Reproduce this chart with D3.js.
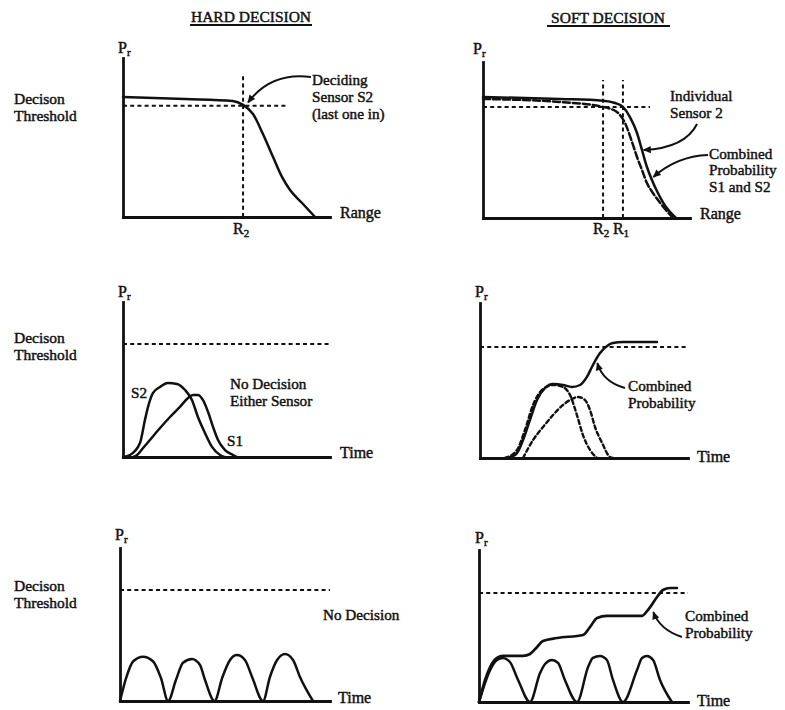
<!DOCTYPE html>
<html><head><meta charset="utf-8">
<script src="https://cdn.jsdelivr.net/npm/d3@7"></script>
<style>
body{margin:0;background:#fff}
svg text{font-family:"Liberation Serif","Times New Roman",serif;fill:#111;stroke:#111;stroke-width:0.45px}
</style></head><body><svg id="c" width="785" height="710"></svg>
<script>
// ---------------- DATA (x: 0–100 along axis, y: probability 0–1) ----------------
const titles = ["HARD DECISION", "SOFT DECISION"];
const thresholds = [0.70, 0.712, 0.729, 0.716, 0.725, 0.717];
const thresholdEnds = [79, 80.7, 100, 100, 100, 100];
const xAxisNames = ["Range", "Range", "Time", "Time", "Time", "Time"];

// Row 1 — probability vs range
const hardRangeS2 = [[0,0.755],[30,0.742],[53,0.730],[58,0.705],[62.8,0.648],[67.6,0.522],[72.5,0.377],[76.8,0.252],[80.7,0.170],[86.5,0.088],[92.8,0]];
const hardRangeMarkers = [{name:"R", sub:"2", x:58}];
const softRangeCombined = [[0,0.776],[37.2,0.763],[58,0.752],[63.8,0.737],[67.6,0.712],[71,0.647],[74.4,0.545],[76.8,0.436],[79.2,0.327],[81.6,0.244],[84.5,0.160],[87.4,0.090],[93.2,0]];
const softRangeSensor2 = [[0,0.763],[37,0.744],[58,0.712],[64.7,0.679],[68.6,0.609],[72,0.487],[74.4,0.391],[76.8,0.308],[79.2,0.224],[82.1,0.160],[86,0.090],[91.8,0]];
const softRangeMarkers = [{name:"R", sub:"2", x:58},{name:"R", sub:"1", x:67.6}];
const markerTop = 0.885;

// Row 2 — two sensors vs time
const hardTimeS2 = [[0,0],[3.4,0.013],[8.2,0.090],[10.6,0.239],[12.1,0.323],[14.5,0.413],[17.9,0.452],[21.7,0.477],[26.1,0.471],[30,0.432],[33.3,0.368],[36.2,0.258],[39.6,0.155],[43,0.065],[46.9,0.013],[49,0]];
const hardTimeS1 = [[5,0],[6.8,0.013],[9.7,0.058],[13,0.110],[17.9,0.187],[22.7,0.258],[27.5,0.323],[31.4,0.381],[33.8,0.400],[36.2,0.400],[38.6,0.368],[41.1,0.290],[43.5,0.194],[45.9,0.110],[49.3,0.045],[53.1,0.013],[55,0]];
const softTimeCombined = [[13.5,0],[17.8,0.032],[20.7,0.116],[24,0.245],[27.4,0.374],[31.3,0.452],[35.1,0.477],[39.9,0.471],[44.2,0.458],[48.1,0.471],[51.4,0.523],[54.3,0.600],[57.7,0.677],[61.1,0.723],[63.9,0.742],[68.8,0.748],[85.1,0.748]];
const softTimeSensorA = [[12,0],[17.8,0.052],[21.6,0.181],[25.5,0.342],[29.8,0.439],[35.1,0.471],[39.9,0.458],[43.3,0.406],[46.6,0.277],[49.5,0.148],[52.9,0.052],[56.3,0]];
const softTimeSensorB = [[20.7,0],[25.5,0.116],[30.3,0.200],[35.1,0.277],[39.9,0.342],[44.2,0.381],[47.1,0.394],[50.5,0.374],[52.9,0.310],[55.3,0.200],[58.7,0.097],[62.5,0.006],[63.9,0]];

// Row 3 — intermittent detections
const hardPulses = [[0,0],[2.9,0.15],[6.3,0.26],[11,0.29],[15.7,0.26],[19.5,0.15],[22.9,0],[26.7,0.14],[30,0.25],[34.3,0.275],[38.1,0.235],[40.5,0.137],[45,0],[48.8,0.157],[52.4,0.268],[55.7,0.30],[59.5,0.268],[62.9,0.157],[68.1,0],[71.4,0.157],[74.8,0.268],[78.6,0.307],[82.4,0.268],[85.7,0.157],[91.9,0]];
const softPulses = [[0,0],[5.3,0.21],[8.6,0.276],[11.5,0.29],[14.8,0.263],[18.7,0.145],[24.4,0],[29.2,0.19],[31.6,0.25],[34.9,0.276],[37.8,0.257],[41.1,0.145],[46.9,0],[52.2,0.23],[54.5,0.29],[57.9,0.303],[61.2,0.276],[64.1,0.145],[68.9,0],[75.6,0.21],[78,0.29],[80.4,0.303],[83.3,0.276],[86.6,0.145],[92.3,0]];
const softPulseCombined = [[0,0],[2.9,0.145],[5.3,0.23],[8.6,0.29],[11.5,0.303],[21.1,0.303],[24.4,0.316],[27.8,0.362],[30.6,0.401],[37.3,0.421],[49.8,0.441],[53.1,0.493],[56.5,0.553],[61.2,0.566],[77.9,0.566],[80.8,0.605],[85.2,0.691],[88,0.737],[91.4,0.75],[94.7,0.75]];

// Annotation arrows: [start, control, end] in panel units
const arrows = [
  {panel:0, pts:[[90.8,0.88],[71.5,0.913],[60.4,0.72]]},
  {panel:1, pts:[[103.4,0.603],[97.6,0.449],[77.6,0.436]]},
  {panel:1, pts:[[108.7,0.404],[93.7,0.397],[82.3,0.263]]},
  {panel:3, pts:[[69.7,0.452],[59.1,0.49],[56.4,0.613]]},
  {panel:5, pts:[[97.1,0.428],[86.6,0.474],[83.4,0.592]]}
];
const notes = [
  {panel:0, lines:["Deciding","Sensor S2","(last one in)"]},
  {panel:1, lines:["Individual","Sensor 2"]},
  {panel:1, lines:["Combined","Probability","S1 and S2"]},
  {panel:2, lines:["No Decision","Either Sensor"]},
  {panel:2, lines:["S2"]},
  {panel:2, lines:["S1"]},
  {panel:3, lines:["Combined","Probability"]},
  {panel:4, lines:["No Decision"]},
  {panel:5, lines:["Combined","Probability"]}
];
const sideLabel = ["Decison","Threshold"];

// ---------------- LAYOUT ----------------
const panelBox = [
  {x0:123,x1:330,yb:217,yt:58},
  {x0:483,x1:690,yb:218,yt:62},
  {x0:123,x1:330,yb:457,yt:302},
  {x0:480,x1:688,yb:458,yt:303},
  {x0:120,x1:330,yb:701,yt:548},
  {x0:479,x1:688,yb:702,yt:550}
];
const titlePos = [{cx:251,y:22,u0:190,u1:312,uy:25},{cx:608,y:23,u0:547,u1:670,uy:26}];
const prPos = [[118,53],[473,54],[118,297],[475,297],[115,540],[475,543]];
const xNamePos = [[340,218],[700,219],[340,458],[697,462],[338,703],[697,706]];
const notePos = [[312,85],[670,101],[709,158.5],[230,389],[131,398],[227,446],[628,391],[323,620],[685,621]];
const sideLabelPos = [104,343,591];
const LH = 16.8;
const FS = '15.2px';

const svg = d3.select('#c');
const ink = '#111';
const defs = svg.append('defs');
defs.append('marker').attr('id','ah').attr('viewBox','0 0 10 10')
  .attr('refX',9).attr('refY',5).attr('markerWidth',9).attr('markerHeight',8)
  .attr('markerUnits','userSpaceOnUse').attr('orient','auto')
  .append('path').attr('d','M0,0.5 L10,5 L0,9.5 Z').attr('fill',ink).attr('stroke','none');

const P = panelBox.map(b => ({
  xs: d3.scaleLinear().domain([0,100]).range([b.x0,b.x1]),
  ys: d3.scaleLinear().domain([0,1]).range([b.yb,b.yt]),
  g: svg.append('g')
}));

function multiline(x, y, lines, size){
  const t = svg.append('text').attr('x',x).attr('y',y).style('font-size',size);
  lines.forEach((s,k)=>t.append('tspan').attr('x',x).attr('dy',k===0?0:LH).text(s));
  return t;
}

// titles
titles.forEach((t,i)=>{
  const p = titlePos[i];
  svg.append('text').attr('x',p.cx).attr('y',p.y).attr('text-anchor','middle')
    .style('font-size','15.5px').text(t);
  svg.append('line').attr('x1',p.u0).attr('x2',p.u1).attr('y1',p.uy).attr('y2',p.uy)
    .attr('stroke',ink).attr('stroke-width',1.8);
});

// side labels
sideLabelPos.forEach(y=>multiline(14, y, sideLabel, '15.5px'));

// axes, thresholds, axis names
P.forEach((p,i)=>{
  const ax = p.g.append('g').attr('transform',`translate(0,${p.ys(0)})`)
    .call(d3.axisBottom(p.xs).tickValues([]).tickSizeOuter(0));
  const ay = p.g.append('g').attr('transform',`translate(${p.xs(0)},0)`)
    .call(d3.axisLeft(p.ys).tickValues([]).tickSizeOuter(0));
  [ax,ay].forEach(a=>a.select('.domain').attr('stroke',ink).attr('stroke-width',2.8).attr('stroke-linecap','square'));
  p.g.append('line').attr('x1',p.xs(0)).attr('x2',p.xs(thresholdEnds[i]))
    .attr('y1',p.ys(thresholds[i])).attr('y2',p.ys(thresholds[i]))
    .attr('stroke',ink).attr('stroke-width',2).attr('stroke-dasharray','4,3.2');
  const pr = svg.append('text').attr('x',prPos[i][0]).attr('y',prPos[i][1]).style('font-size','16px').text('P');
  pr.append('tspan').attr('dy',3).style('font-size','11px').text('r');
  svg.append('text').attr('x',xNamePos[i][0]).attr('y',xNamePos[i][1]).style('font-size','16px').text(xAxisNames[i]);
});

function curve(pi, data, opts){
  const p = P[pi];
  const line = d3.line().x(d=>p.xs(d[0])).y(d=>p.ys(d[1])).curve(d3.curveMonotoneX);
  p.g.append('path').datum(data).attr('d',line).attr('fill','none')
    .attr('stroke',ink).attr('stroke-width',opts.w||2.5)
    .attr('stroke-linejoin','round').attr('stroke-linecap','round')
    .attr('stroke-dasharray',opts.dash||null);
}
function markers(pi, list){
  const p = P[pi];
  list.forEach(m=>{
    p.g.append('line').attr('x1',p.xs(m.x)).attr('x2',p.xs(m.x))
      .attr('y1',p.ys(0)).attr('y2',p.ys(markerTop))
      .attr('stroke',ink).attr('stroke-width',2).attr('stroke-dasharray','4,3.2');
    const t = p.g.append('text').attr('x',p.xs(m.x)-10).attr('y',234).style('font-size','16px').text(m.name);
    t.append('tspan').attr('dy',3).style('font-size','11px').text(m.sub);
  });
}

markers(0, hardRangeMarkers);
markers(1, softRangeMarkers);
curve(0, hardRangeS2, {});
curve(1, softRangeCombined, {});
curve(1, softRangeSensor2, {dash:'7,3', w:2.5});
curve(2, hardTimeS2, {});
curve(2, hardTimeS1, {});
curve(3, softTimeSensorA, {dash:'4,3', w:2.4});
curve(3, softTimeSensorB, {dash:'4,3', w:2.4});
curve(3, softTimeCombined, {});
curve(4, hardPulses, {});
curve(5, softPulses, {});
curve(5, softPulseCombined, {w:2.7});

// annotation arrows
arrows.forEach(a=>{
  const p = P[a.panel];
  const q = a.pts.map(d=>[p.xs(d[0]),p.ys(d[1])]);
  svg.append('path').attr('d',`M${q[0]}Q${q[1]} ${q[2]}`).attr('fill','none')
    .attr('stroke',ink).attr('stroke-width',2).attr('marker-end','url(#ah)');
});

// notes
notes.forEach((n,i)=>multiline(notePos[i][0], notePos[i][1], n.lines, FS));
</script></body></html>
